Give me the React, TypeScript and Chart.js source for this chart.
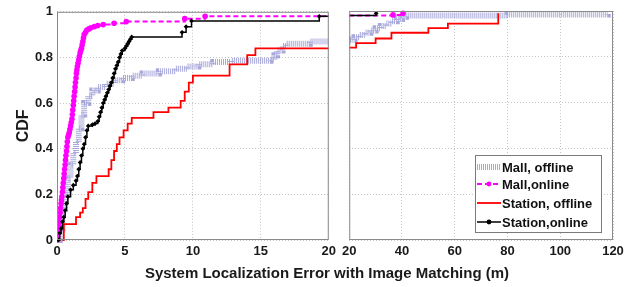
import React, { useEffect, useRef } from "react";
import { Chart, registerables } from "chart.js";
Chart.register(...registerables);

// ---- data ----
const mallOfflineX = [0, 0.2, 0.4, 0.6, 0.8, 1.0, 1.2, 1.4, 1.6, 1.8, 2.0, 2.3, 2.6, 3.0, 3.6, 4.2, 4.8, 5.5, 6.3, 7.5, 8.7, 9.6, 10.4, 11.5, 12.8, 15.7, 16.0, 16.2, 16.6, 16.9, 18.6, 20.5, 22, 24, 26, 28, 30, 32, 34, 36, 38, 40, 41.5, 80, 118];
const mallOfflineY = [0, 0.05, 0.12, 0.2, 0.27, 0.33, 0.38, 0.43, 0.49, 0.55, 0.6, 0.63, 0.655, 0.67, 0.685, 0.7, 0.71, 0.72, 0.73, 0.74, 0.75, 0.76, 0.77, 0.78, 0.785, 0.79, 0.81, 0.83, 0.85, 0.86, 0.87, 0.875, 0.885, 0.895, 0.905, 0.915, 0.925, 0.935, 0.945, 0.955, 0.965, 0.975, 0.98, 0.985, 0.987];

const mallOnlineX = [0, 0.03, 0.06, 0.1, 0.13, 0.16, 0.2, 0.23, 0.26, 0.3, 0.33, 0.36, 0.4, 0.43, 0.46, 0.5, 0.53, 0.56, 0.6, 0.63, 0.66, 0.7, 0.73, 0.76, 0.8, 0.85, 0.9, 0.95, 1.0, 1.05, 1.1, 1.13, 1.16, 1.2, 1.23, 1.26, 1.3, 1.33, 1.36, 1.4, 1.43, 1.46, 1.5, 1.55, 1.6, 1.65, 1.7, 1.75, 1.8, 1.85, 1.9, 1.95, 2.0, 2.1, 2.2, 2.35, 2.5, 2.75, 3.0, 3.4, 4.2, 5.1, 9.4, 10.9, 36.6, 40.4];
const mallOnlineY = [0, 0.015, 0.03, 0.045, 0.06, 0.08, 0.1, 0.12, 0.14, 0.16, 0.175, 0.19, 0.21, 0.23, 0.25, 0.27, 0.29, 0.31, 0.33, 0.35, 0.37, 0.39, 0.41, 0.43, 0.45, 0.46, 0.47, 0.485, 0.5, 0.515, 0.53, 0.55, 0.57, 0.59, 0.61, 0.63, 0.65, 0.67, 0.69, 0.71, 0.73, 0.745, 0.76, 0.775, 0.79, 0.805, 0.82, 0.83, 0.84, 0.855, 0.87, 0.885, 0.9, 0.91, 0.92, 0.925, 0.93, 0.935, 0.94, 0.944, 0.95, 0.957, 0.97, 0.98, 0.983, 0.99];

const stationOfflineX = [0.4, 0.5, 1.4, 1.7, 1.9, 2.1, 2.3, 2.6, 2.9, 3.8, 4.0, 4.2, 4.4, 4.6, 4.9, 5.2, 5.5, 7.1, 8.2, 9.1, 9.4, 9.7, 10.0, 12.7, 14.0, 14.6, 22.6, 30, 36, 50, 57.4, 76.5];
const stationOfflineY = [0, 0.07, 0.1, 0.12, 0.14, 0.18, 0.21, 0.25, 0.28, 0.31, 0.35, 0.39, 0.42, 0.45, 0.48, 0.51, 0.535, 0.56, 0.58, 0.61, 0.65, 0.69, 0.72, 0.77, 0.81, 0.84, 0.86, 0.88, 0.905, 0.925, 0.945, 0.99];

const stationOnlineX = [0.1, 0.2, 0.3, 0.4, 0.5, 0.6, 0.7, 0.8, 1.0, 1.2, 1.4, 1.5, 1.6, 1.7, 1.8, 1.9, 2.0, 2.1, 2.2, 2.3, 2.6, 2.8, 3.0, 3.1, 3.2, 3.3, 3.4, 3.5, 3.6, 3.7, 3.8, 3.9, 4.0, 4.1, 4.2, 4.3, 4.4, 4.5, 4.6, 4.7, 4.8, 5.0, 5.1, 5.2, 5.3, 5.4, 5.5, 9.2, 9.5, 9.9, 19.3, 30.2];
const stationOnlineY = [0.0, 0.03, 0.05, 0.08, 0.1, 0.13, 0.16, 0.19, 0.22, 0.24, 0.26, 0.28, 0.31, 0.34, 0.37, 0.4, 0.42, 0.45, 0.48, 0.5, 0.505, 0.51, 0.52, 0.54, 0.56, 0.58, 0.6, 0.615, 0.63, 0.645, 0.66, 0.675, 0.69, 0.71, 0.73, 0.75, 0.765, 0.78, 0.8, 0.815, 0.83, 0.84, 0.85, 0.86, 0.87, 0.88, 0.89, 0.91, 0.935, 0.96, 0.98, 0.99];

const seriesNames = ["Mall, offline", "Mall,online", "Station, offline", "Station,online"];
const xTicksLeft = [0, 5, 10, 15, 20];
const xTicksRight = [20, 40, 60, 80, 100, 120];
const yTicks = [0, 0.2, 0.4, 0.6, 0.8, 1];
const xTitle = "System Localization Error with Image Matching (m)";
const yTitle = "CDF";

const FONT = "'Liberation Sans', Arial, sans-serif";
const zip = (xs: number[], ys: number[]) => xs.map((x, i) => ({ x, y: ys[i] }));

const styles = [
  { color: "rgba(110,110,195,0.6)", width: 6, dash: [1, 1], radius: 0 },
  { color: "#ff00ff", width: 2, dash: [5, 3], radius: 2.8 },
  { color: "#ff0000", width: 1.8, dash: [], radius: 0 },
  { color: "#000000", width: 1.5, dash: [], radius: 2.4 },
];

function makeDatasets() {
  const all = [
    zip(mallOfflineX, mallOfflineY),
    zip(mallOnlineX, mallOnlineY),
    zip(stationOfflineX, stationOfflineY),
    zip(stationOnlineX, stationOnlineY),
  ];
  return all.map((data, i) => ({
    label: seriesNames[i],
    data,
    stepped: true as const,
    borderColor: styles[i].color,
    borderWidth: styles[i].width,
    borderDash: styles[i].dash,
    pointRadius: styles[i].radius,
    pointBackgroundColor: styles[i].color,
    pointBorderColor: styles[i].color,
    pointBorderWidth: 0,
    pointStyle: i === 3 ? "rectRot" : "circle",
    fill: false,
    order: 4 - i,
    clip: { left: 0, right: 0, top: 5, bottom: 5 },
  }));
}

const framePlugin = {
  id: "frame",
  afterDraw(chart: any) {
    const { ctx, chartArea: a } = chart;
    ctx.save();
    ctx.strokeStyle = "#8a8a8a";
    ctx.lineWidth = 1;
    ctx.strokeRect(a.left + 0.5, a.top + 0.5, a.right - a.left - 1, a.bottom - a.top - 1);
    ctx.restore();
  },
};

const legendPlugin = {
  id: "boxLegend",
  afterDraw(chart: any) {
    const { ctx, chartArea: a } = chart;
    const w = 126, h = 77;
    const x0 = a.right - 12 - w;
    const y0 = a.bottom - 8 - h;
    ctx.save();
    ctx.fillStyle = "#fff";
    ctx.fillRect(x0, y0, w, h);
    ctx.strokeStyle = "#7a7a7a";
    ctx.lineWidth = 1;
    ctx.strokeRect(x0 + 0.5, y0 + 0.5, w, h);
    ctx.font = `bold 13px ${FONT}`;
    ctx.textBaseline = "middle";
    const rows = [12, 29, 48, 67];
    seriesNames.forEach((name, i) => {
      const cy = y0 + rows[i];
      const s = styles[i];
      ctx.beginPath();
      ctx.strokeStyle = s.color;
      ctx.lineWidth = s.width;
      ctx.setLineDash(s.dash);
      ctx.moveTo(x0 + 2, cy);
      ctx.lineTo(x0 + 26, cy);
      ctx.stroke();
      ctx.setLineDash([]);
      if (s.radius > 0) {
        ctx.beginPath();
        ctx.fillStyle = s.color;
        ctx.arc(x0 + 14, cy, 2.4, 0, Math.PI * 2);
        ctx.fill();
      }
      ctx.fillStyle = "#111";
      ctx.fillText(name, x0 + 27, cy + 1);
    });
    ctx.restore();
  },
};

function makeConfig(side: "left" | "right"): any {
  const left = side === "left";
  const xt = left ? xTicksLeft : xTicksRight;
  return {
    type: "line",
    data: { datasets: makeDatasets() },
    options: {
      animation: false,
      responsive: false,
      events: [],
      layout: { padding: { top: 11, right: left ? 8 : 24, left: 0, bottom: 0 } },
      plugins: { legend: { display: false }, tooltip: { enabled: false } },
      scales: {
        x: {
          type: "linear",
          min: xt[0],
          max: xt[xt.length - 1],
          afterBuildTicks: (axis: any) => {
            axis.ticks = xt.map((v) => ({ value: v }));
          },
          afterFit: (axis: any) => {
            axis.height = 47;
          },
          grid: { color: "#c4c4c4", drawTicks: false },
          border: { display: false, dash: [1, 2] },
          ticks: {
            padding: 4,
            color: "#1a1a1a",
            font: { family: FONT, size: 13, weight: "bold" },
            callback: (v: number) => String(v),
            maxRotation: 0,
          },
        },
        y: {
          type: "linear",
          min: 0,
          max: 1,
          afterBuildTicks: (axis: any) => {
            axis.ticks = yTicks.map((v) => ({ value: v }));
          },
          afterFit: (axis: any) => {
            axis.width = left ? 57 : 10;
          },
          grid: { color: "#c4c4c4", drawTicks: false },
          border: { display: false, dash: [1, 2] },
          title: left
            ? {
                display: true,
                text: yTitle,
                color: "#1a1a1a",
                font: { family: FONT, size: 16, weight: "bold" },
                padding: { top: 14, bottom: 0 },
              }
            : { display: false },
          ticks: {
            display: left,
            padding: 4,
            color: "#1a1a1a",
            font: { family: FONT, size: 13, weight: "bold" },
            callback: (v: number) => String(Number(v.toFixed(1))),
          },
        },
      },
    },
    plugins: left ? [framePlugin] : [framePlugin, legendPlugin],
  };
}

function Panel({ side, left, width }: { side: "left" | "right"; left: number; width: number }) {
  const ref = useRef<HTMLCanvasElement>(null);
  useEffect(() => {
    if (!ref.current) return;
    const chart = new Chart(ref.current, makeConfig(side));
    return () => chart.destroy();
  }, [side]);
  return (
    <canvas
      ref={ref}
      width={width}
      height={287}
      style={{ position: "absolute", left, top: 0, width, height: 287 }}
    />
  );
}

export default function App() {
  return (
    <div style={{ position: "absolute", left: 0, top: 0, width: 637, height: 287, background: "#fff", overflow: "hidden" }}>
      <Panel side="left" left={0} width={340} />
      <Panel side="right" left={338} width={299} />
      <div
        style={{
          position: "absolute",
          left: 0,
          width: 654,
          top: 264,
          textAlign: "center",
          font: `bold 15px ${FONT}`,
          lineHeight: "18px",
          color: "#1a1a1a",
          whiteSpace: "nowrap",
        }}
      >
        {xTitle}
      </div>
    </div>
  );
}
